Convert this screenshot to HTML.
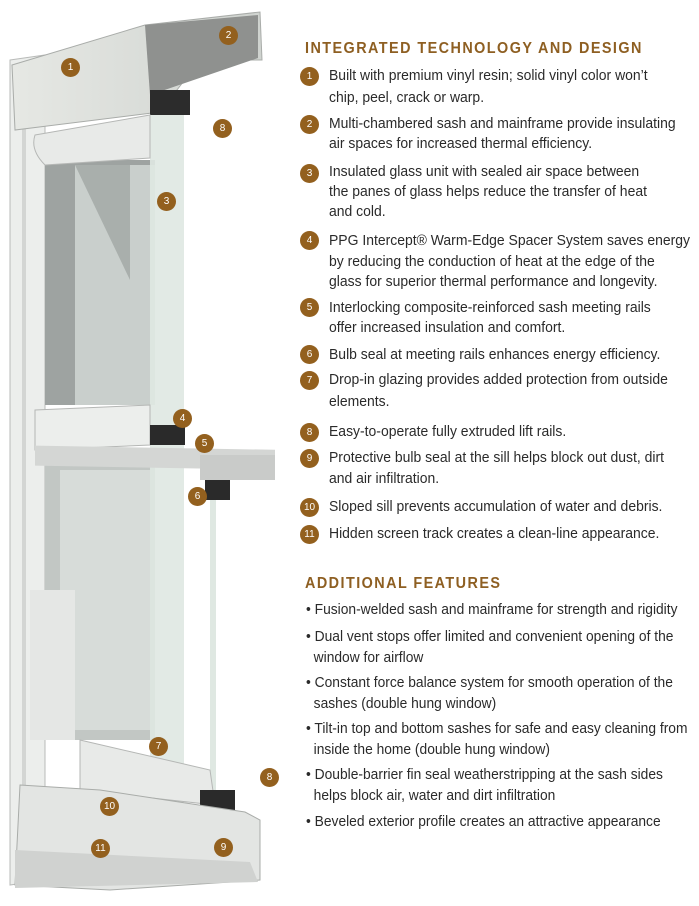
<!DOCTYPE html>
<html><head><meta charset="utf-8"><style>
body{margin:0;background:#fff;width:699px;height:906px;position:relative;overflow:hidden;font-family:"Liberation Sans",sans-serif}
.t{position:absolute;left:329px;white-space:nowrap;font-size:15px;color:#2a2a2a;transform:scaleX(0.93);transform-origin:left center;line-height:18px}
.b{position:absolute;left:306px;white-space:nowrap;font-size:15px;color:#2a2a2a;transform:scaleX(0.92);transform-origin:left center;line-height:18px}
.h{position:absolute;left:305px;white-space:nowrap;font-size:16px;font-weight:bold;color:#8e5f22;letter-spacing:1.6px;transform:scaleX(0.9);transform-origin:left center}
.n{position:absolute;width:19px;height:19px;border-radius:50%;background:#93601e;color:#fff;font-size:10px;text-align:center;line-height:19px}
</style></head><body>
<svg width="290" height="906" style="position:absolute;left:0;top:0">
<defs><linearGradient id="g" x1="0" x2="1"><stop offset="0" stop-color="#e6e8e4"/><stop offset="1" stop-color="#cfd3cf"/></linearGradient></defs>
<polygon points="10,60 45,55 45,880 10,885" fill="#eceeec" stroke="#b9bbb9"/>
<rect x="22" y="90" width="4" height="790" fill="#d3d5d3"/>
<rect x="45" y="160" width="110" height="245" fill="#9ea3a1"/>
<rect x="75" y="165" width="80" height="240" fill="#c9cfcc"/>
<polygon points="75,165 130,165 130,280" fill="#a9afac"/>
<rect x="45" y="460" width="110" height="280" fill="#c2c7c4"/>
<rect x="60" y="470" width="90" height="260" fill="#d7dcd9"/>
<rect x="30" y="590" width="45" height="150" fill="#e5e7e5"/>
<rect x="150" y="110" width="34" height="770" fill="#dfe8e2" opacity="0.9"/>
<rect x="210" y="460" width="6" height="420" fill="#dfe8e2"/>
<polygon points="12,65 145,25 260,12 262,60 200,60 160,112 15,130" fill="url(#g)" stroke="#a9aca9"/>
<polygon points="145,25 258,15 258,58 150,95" fill="#8f918f"/>
<rect x="150" y="90" width="40" height="25" fill="#2c2c2c"/>
<path d="M35,135 L150,115 L150,158 L45,165 Q30,150 35,135Z" fill="#e8eae8" stroke="#b5b7b5"/>
<path d="M35,410 L150,405 L150,445 L35,450Z" fill="#eceeec" stroke="#b5b7b5"/>
<rect x="35" y="445" width="240" height="20" fill="#d4d6d4" transform="skewY(1)"/>
<rect x="150" y="425" width="35" height="20" fill="#2a2a2a"/>
<rect x="200" y="455" width="75" height="25" fill="#c9cbc9"/>
<rect x="205" y="480" width="25" height="20" fill="#2a2a2a"/>
<path d="M80,740 L210,770 L215,805 L80,790Z" fill="#e8eae8" stroke="#b5b7b5"/>
<rect x="200" y="790" width="35" height="22" fill="#2a2a2a"/>
<polygon points="20,785 100,790 245,812 260,820 260,880 110,890 15,885" fill="#e3e5e3" stroke="#a9aca9"/>
<polygon points="15,850 250,862 258,882 15,888" fill="#d0d2d0"/>
</svg>
<div class="n" style="left:61px;top:58px">1</div>
<div class="n" style="left:219px;top:26px">2</div>
<div class="n" style="left:213px;top:119px">8</div>
<div class="n" style="left:157px;top:192px">3</div>
<div class="n" style="left:173px;top:409px">4</div>
<div class="n" style="left:195px;top:434px">5</div>
<div class="n" style="left:188px;top:487px">6</div>
<div class="n" style="left:149px;top:737px">7</div>
<div class="n" style="left:260px;top:768px">8</div>
<div class="n" style="left:100px;top:797px">10</div>
<div class="n" style="left:214px;top:838px">9</div>
<div class="n" style="left:91px;top:839px">11</div>

<div class="h" style="top:40px">INTEGRATED TECHNOLOGY AND DESIGN</div>
<div class="n" style="left:300px;top:67px">1</div>
<div class="t" style="top:67px">Built with premium vinyl resin; solid vinyl color won’t</div>
<div class="t" style="top:89px">chip, peel, crack or warp.</div>
<div class="n" style="left:300px;top:115px">2</div>
<div class="t" style="top:115px">Multi-chambered sash and mainframe provide insulating</div>
<div class="t" style="top:135px">air spaces for increased thermal efficiency.</div>
<div class="n" style="left:300px;top:164px">3</div>
<div class="t" style="top:163px">Insulated glass unit with sealed air space between</div>
<div class="t" style="top:183px">the panes of glass helps reduce the transfer of heat</div>
<div class="t" style="top:203px">and cold.</div>
<div class="n" style="left:300px;top:231px">4</div>
<div class="t" style="top:232px">PPG Intercept® Warm-Edge Spacer System saves energy</div>
<div class="t" style="top:253px">by reducing the conduction of heat at the edge of the</div>
<div class="t" style="top:273px">glass for superior thermal performance and longevity.</div>
<div class="n" style="left:300px;top:298px">5</div>
<div class="t" style="top:299px">Interlocking composite-reinforced sash meeting rails</div>
<div class="t" style="top:319px">offer increased insulation and comfort.</div>
<div class="n" style="left:300px;top:345px">6</div>
<div class="t" style="top:346px">Bulb seal at meeting rails enhances energy efficiency.</div>
<div class="n" style="left:300px;top:371px">7</div>
<div class="t" style="top:371px">Drop-in glazing provides added protection from outside</div>
<div class="t" style="top:393px">elements.</div>
<div class="n" style="left:300px;top:423px">8</div>
<div class="t" style="top:423px">Easy-to-operate fully extruded lift rails.</div>
<div class="n" style="left:300px;top:449px">9</div>
<div class="t" style="top:449px">Protective bulb seal at the sill helps block out dust, dirt</div>
<div class="t" style="top:470px">and air infiltration.</div>
<div class="n" style="left:300px;top:498px">10</div>
<div class="t" style="top:498px">Sloped sill prevents accumulation of water and debris.</div>
<div class="n" style="left:300px;top:525px">11</div>
<div class="t" style="top:525px">Hidden screen track creates a clean-line appearance.</div>

<div class="h" style="top:575px">ADDITIONAL FEATURES</div>
<div class="b" style="top:601px">• Fusion-welded sash and mainframe for strength and rigidity</div>
<div class="b" style="top:628px">• Dual vent stops offer limited and convenient opening of the</div>
<div class="b" style="top:649px">&nbsp;&nbsp;window for airflow</div>
<div class="b" style="top:674px">• Constant force balance system for smooth operation of the</div>
<div class="b" style="top:695px">&nbsp;&nbsp;sashes (double hung window)</div>
<div class="b" style="top:720px">• Tilt-in top and bottom sashes for safe and easy cleaning from</div>
<div class="b" style="top:741px">&nbsp;&nbsp;inside the home (double hung window)</div>
<div class="b" style="top:766px">• Double-barrier fin seal weatherstripping at the sash sides</div>
<div class="b" style="top:787px">&nbsp;&nbsp;helps block air, water and dirt infiltration</div>
<div class="b" style="top:813px">• Beveled exterior profile creates an attractive appearance</div>
</body></html>
